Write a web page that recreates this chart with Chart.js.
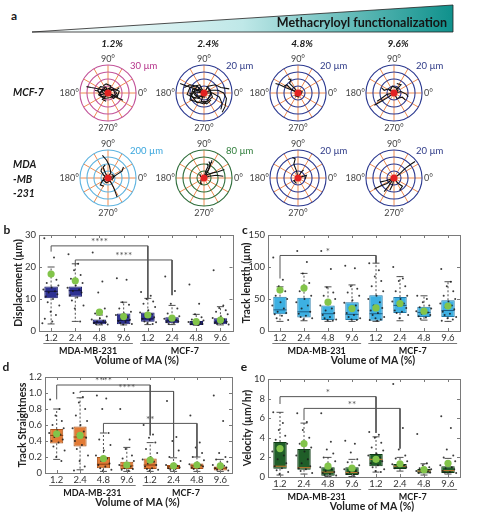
<!DOCTYPE html>
<html lang="en">
<head>
<meta charset="UTF-8">
<title>Cell migration vs. methacryloyl functionalization</title>
<script src="https://cdn.jsdelivr.net/npm/chart.js"></script>
<style>
  body { margin: 0; background: #fff; }
  #page { position: relative; width: 480px; height: 526px; overflow: hidden; font-family: Lato, "Open Sans", sans-serif; }
  #page canvas { position: absolute; }
  .t { position: absolute; white-space: nowrap; color: #1a1a1a; transform: translate(-50%, -50%); line-height: 1; }
  .l { transform: translate(0, -50%); }
</style>
</head>
<body>
<div id="page">
  <svg style="position:absolute;left:0;top:0" width="480" height="40">
    <defs>
      <linearGradient id="wedge" x1="0" x2="1" y1="0" y2="0">
        <stop offset="0" stop-color="#ffffff"/>
        <stop offset="0.5" stop-color="#bfe8e8"/>
        <stop offset="1" stop-color="#0f918c"/>
      </linearGradient>
    </defs>
    <polygon points="32,32 453,5 453,32" fill="url(#wedge)" stroke="#222" stroke-width="0.8"/>
  </svg>

  <canvas id="p0"></canvas><canvas id="p1"></canvas><canvas id="p2"></canvas><canvas id="p3"></canvas>
  <canvas id="p4"></canvas><canvas id="p5"></canvas><canvas id="p6"></canvas><canvas id="p7"></canvas>
  <canvas id="cb"></canvas><canvas id="cc"></canvas><canvas id="cd"></canvas><canvas id="ce"></canvas>
</div>

<script>
// ---- shared categories ----
const CAT_LABELS = ['1.2', '2.4', '4.8', '9.6', '1.2', '2.4', '4.8', '9.6'];
const GROUP_NAMES = ['MDA-MB-231', 'MCF-7'];
const GROUP_FROM = [0, 4];
const GROUP_TO = [3, 7];
const X_TITLE = 'Volume of MA (%)';
// fixed horizontal spread for the dots (category units)
const JITTER = [-0.28, 0.12, -0.05, 0.22, -0.18, 0.3, 0.02, -0.32, 0.16, -0.1, 0.26, -0.22, 0.08, -0.14, 0.34, -0.02, 0.2, -0.26, 0.05, -0.36];

// ---- b: displacement (µm) ----
const DISP_Q1 = [10.2, 10.7, 2.1, 2.1, 2.9, 2.4, 1.9, 2.1];
const DISP_Q3 = [13.9, 13.9, 3.6, 5.5, 5.8, 4.3, 3.1, 4.0];
const DISP_MED = [12.4, 12.6, 2.7, 3.3, 3.8, 3.2, 2.5, 2.8];
const DISP_LO = [2.2, 3.0, 1.9, 1.9, 2.0, 2.0, 1.8, 1.9];
const DISP_HI = [20, 21, 5.0, 9.0, 10.2, 8.0, 5.2, 7.6];
const DISP_MEAN = [17.8, 15.7, 5.9, 4.5, 5.0, 4.0, 2.9, 3.4];
const DISP_PTS = [
  [29, 23, 18.5, 16, 15, 14.2, 13.6, 13, 12.4, 12, 11.5, 10.8, 10, 9, 8, 6, 5, 3.8, 3, 2.4],
  [24, 21, 19, 17.5, 16.3, 15, 14.2, 13.5, 13, 12.5, 12, 11.2, 10.5, 9.5, 8, 7, 3],
  [24.5, 15.5, 12, 7, 5.5, 4.5, 4, 3.6, 3.2, 3, 2.7, 2.5, 2.3, 2.1, 2],
  [16.5, 16, 9, 8.2, 7, 6, 5.5, 5, 4.4, 4, 3.5, 3.1, 2.8, 2.5, 2.2, 2],
  [12.2, 11, 10, 9.2, 8.5, 7.5, 6.5, 5.8, 5.2, 4.8, 4.3, 3.8, 3.4, 3, 2.7, 2.4, 2.2],
  [17, 12.5, 8.5, 7, 5.5, 4.6, 4.1, 3.8, 3.5, 3.2, 3, 2.8, 2.5, 2.2],
  [14.5, 8.5, 5.2, 4.3, 3.6, 3.3, 3, 2.8, 2.6, 2.4, 2.2, 2.1, 1.9],
  [19, 8, 7.2, 6.5, 6, 5.2, 4.6, 4.1, 3.6, 3.2, 2.9, 2.6, 2.4, 2.2, 2]
];
// [from, to, leg start, top, leg end, stars]
const DISP_SIG = [[0, 4, 24.8, 26.6, 10.2, '****'], [1, 5, 20.6, 22.2, 11.2, '****']];

// ---- c: track length (µm) ----
const LEN_Q1 = [26, 21, 17, 17, 16, 28, 22, 22];
const LEN_Q3 = [53.6, 52, 40, 45, 56, 53, 38, 48];
const LEN_MED = [33, 30, 27, 26, 27, 40, 29, 32];
const LEN_LO = [15, 16, 15, 15, 15, 16, 17, 15];
const LEN_HI = [69, 90, 69, 72, 106, 85, 55, 77];
const LEN_MEAN = [64, 67, 45, 35, 36, 43, 31, 39];
const LEN_PTS = [
  [115, 80, 70, 62, 55, 50, 45, 40, 35, 30, 28, 26, 24, 20, 17],
  [125, 108, 90, 75, 62, 55, 50, 45, 40, 35, 30, 27, 24, 22, 20, 18],
  [125, 97, 68, 60, 55, 50, 45, 40, 35, 32, 28, 25, 22, 20, 18, 17, 16],
  [102, 98, 70, 66, 60, 55, 48, 44, 40, 36, 32, 28, 25, 22, 20, 18, 17],
  [106, 95, 85, 78, 70, 62, 55, 50, 45, 40, 36, 32, 28, 25, 22, 20, 18, 17, 16],
  [100, 82, 78, 70, 62, 55, 50, 46, 43, 40, 36, 32, 30, 28, 25, 20],
  [55, 50, 45, 40, 37, 35, 33, 31, 29, 27, 25, 23, 21, 19],
  [97, 77, 70, 62, 55, 50, 46, 43, 40, 37, 34, 30, 27, 25, 22, 20, 18, 16]
];
const LEN_SIG = [[0, 4, 82, 118, 106, '*']];

// ---- d: track straightness ----
const STR_Q1 = [0.37, 0.33, 0.06, 0.05, 0.05, 0.05, 0.05, 0.03];
const STR_Q3 = [0.55, 0.58, 0.2, 0.14, 0.18, 0.1, 0.12, 0.08];
const STR_MED = [0.47, 0.45, 0.11, 0.09, 0.1, 0.08, 0.09, 0.06];
const STR_LO = [0.17, 0.04, 0.02, 0.02, 0.02, 0.02, 0.02, 0.02];
const STR_HI = [0.8, 0.94, 0.5, 0.32, 0.38, 0.19, 0.2, 0.17];
const STR_MEAN = [0.49, 0.47, 0.18, 0.1, 0.16, 0.09, 0.1, 0.09];
const STR_PTS = [
  [0.92, 0.8, 0.72, 0.65, 0.6, 0.56, 0.53, 0.5, 0.48, 0.45, 0.42, 0.4, 0.38, 0.33, 0.28, 0.2, 0.15],
  [1.0, 0.95, 0.88, 0.8, 0.72, 0.65, 0.6, 0.56, 0.52, 0.48, 0.44, 0.4, 0.35, 0.3, 0.22, 0.15, 0.08, 0.03],
  [0.97, 0.93, 0.8, 0.5, 0.42, 0.35, 0.28, 0.22, 0.18, 0.15, 0.12, 0.1, 0.08, 0.06, 0.04, 0.03],
  [0.8, 0.42, 0.3, 0.22, 0.18, 0.15, 0.12, 0.1, 0.08, 0.06, 0.05, 0.04, 0.03],
  [0.6, 0.48, 0.44, 0.38, 0.3, 0.25, 0.2, 0.17, 0.14, 0.12, 0.1, 0.08, 0.06, 0.05, 0.04, 0.03],
  [0.9, 0.45, 0.4, 0.28, 0.2, 0.15, 0.12, 0.1, 0.09, 0.08, 0.07, 0.06, 0.05, 0.04],
  [0.72, 0.38, 0.32, 0.25, 0.2, 0.16, 0.13, 0.11, 0.1, 0.09, 0.08, 0.07, 0.06, 0.05],
  [0.97, 0.65, 0.25, 0.2, 0.17, 0.14, 0.12, 0.1, 0.09, 0.08, 0.07, 0.06, 0.05, 0.04, 0.03]
];
const STR_SIG = [[0, 4, 0.92, 1.1, 0.47, '****'], [1, 5, 1.0, 1.02, 0.2, '****'], [2, 6, 0.5, 0.62, 0.2, '**']];

// ---- e: velocity (µm/hr) ----
const VEL_Q1 = [0.85, 0.75, 0.14, 0.2, 1.1, 0.82, 0.35, 0.4];
const VEL_Q3 = [3.57, 2.86, 1.0, 1.0, 2.35, 1.33, 0.82, 1.1];
const VEL_MED = [1.1, 0.95, 0.5, 0.45, 1.8, 1.1, 0.6, 0.65];
const VEL_LO = [0.2, 0.3, 0.05, 0.05, 0.5, 0.6, 0.2, 0.3];
const VEL_HI = [6.6, 5.5, 2.0, 1.8, 4.1, 2.0, 1.35, 1.9];
const VEL_MEAN = [2.9, 3.4, 1.1, 0.9, 1.8, 1.35, 0.75, 1.4];
const VEL_PTS = [
  [6.6, 5.5, 4.8, 4.2, 3.8, 3.4, 3, 2.6, 2.2, 1.8, 1.4, 1.1, 0.9, 0.7, 0.5, 0.3],
  [6.5, 5.6, 4.8, 4, 3.4, 3, 2.6, 2.2, 1.8, 1.4, 1.1, 0.9, 0.8, 0.6, 0.4],
  [6.5, 3.6, 2.8, 2.4, 2, 1.6, 1.2, 1, 0.8, 0.6, 0.5, 0.4, 0.3, 0.2, 0.15],
  [3.7, 3.4, 2.5, 1.8, 1.5, 1.2, 1, 0.8, 0.6, 0.5, 0.4, 0.3, 0.2],
  [4.6, 4.3, 4, 3.5, 3, 2.7, 2.4, 2.2, 2, 1.8, 1.6, 1.4, 1.2, 1, 0.8, 0.6, 0.5],
  [9.5, 5, 2.8, 2.2, 1.9, 1.6, 1.4, 1.3, 1.2, 1.1, 1, 0.9],
  [4.4, 1.4, 1.2, 1, 0.9, 0.8, 0.7, 0.6, 0.55, 0.5, 0.45, 0.4],
  [6.2, 5, 2.8, 2.2, 2, 1.6, 1.4, 1.2, 1, 0.9, 0.8, 0.6, 0.5, 0.45, 0.4]
];
const VEL_SIG = [[0, 4, 7.45, 8.2, 4.5, '*'], [1, 5, 5.8, 7.0, 2.9, '**']];

// ---- a: cell tracks, µm from start ----
const POLAR_HEAD = ['1.2%', '2.4%', '4.8%', '9.6%'];
const POLAR_MAX = [30, 20, 20, 20, 200, 80, 20, 20];
const TRACKS = [
  [ // MCF-7 1.2 %
    [[0, 0], [-5, 3], [-12, 5], [-18, 6], [-23, 7]],
    [[0, 0], [4, -2], [8, -4], [12, -6], [16, -8]],
    [[0, 0], [-3, -4], [-6, -7], [-2, -9]],
    [[0, 0], [5, 4], [9, 3], [12, 6]],
    [[0, 0], [-8, -2], [-10, 2], [-14, 3]],
    [[0, 0], [3, 8], [-2, 10], [-5, 8]],
    [[0, 0], [6, -6], [10, -2], [8, 2]],
    [[0, 0], [-4, 5], [-7, 2], [-4, -1], [2, 3]],
    [[0, 0], [-6, 4], [-10, -2], [-4, -6], [3, -5], [8, -2], [6, 3], [0, 5]],
    [[0, 0], [10, -4], [12, 2], [4, 6], [-4, 3], [-9, 0]],
    [[0, 0], [-2, 6], [-8, 7], [-11, 3], [-7, -4], [0, -3]]
  ],
  [ // MCF-7 2.4 %
    [[0, 0], [-6, 3], [-12, 5], [-17, 7]],
    [[0, 0], [-5, 5], [-10, 6], [-14, 4]],
    [[0, 0], [5, 2], [10, 2], [14, 0], [16, -4], [15, -10], [13, -14]],
    [[0, 0], [6, 0], [11, -3], [13, -8], [12, -12]],
    [[0, 0], [-4, -4], [-8, -3], [-10, 0]],
    [[0, 0], [3, 5], [8, 6], [12, 4], [18, 3]],
    [[0, 0], [-2, -6], [2, -8], [5, -5]],
    [[0, 0], [-8, 1], [-6, -2], [-3, -4]],
    [[0, 0], [-3, 3], [-7, 1], [-5, -2], [1, -3]],
    [[0, 0], [-5, 5], [-9, -2], [-5, -7], [2, -6], [5, 0], [2, 5]],
    [[0, 0], [-8, 3], [-10, -5], [0, -8], [6, -3], [4, 3]],
    [[0, 0], [-3, 6], [-10, 4], [-12, -1], [-6, -4]]
  ],
  [ // MCF-7 4.8 %
    [[0, 0], [-4, 2], [-9, 4], [-13, 6], [-16, 7]],
    [[0, 0], [-3, 4], [-6, 7], [-5, 10], [-7, 10]],
    [[0, 0], [2, -1], [3, 1], [1, 2]],
    [[0, 0], [-2, -2], [1, -3]],
    [[0, 0], [-5, 3], [-8, 6], [-10, 5]]
  ],
  [ // MCF-7 9.6 %
    [[0, 0], [-4, -3], [-9, -6], [-14, -9]],
    [[0, 0], [-5, -1], [-9, -4], [-12, -6]],
    [[0, 0], [3, 4], [5, 6], [2, 7]],
    [[0, 0], [5, 1], [9, -1], [10, -3]],
    [[0, 0], [-4, 3], [-7, 2], [-9, 4]],
    [[0, 0], [2, -4], [6, -3], [8, -5]],
    [[0, 0], [-3, 2], [-1, 5], [3, 3], [1, -2]]
  ],
  [ // MDA-MB-231 1.2 %
    [[0, 0], [20, 40], [10, 90], [-10, 130], [-40, 165]],
    [[0, 0], [20, -30], [40, -70], [55, -110], [65, -140]],
    [[0, 0], [-30, 20], [-50, 50], [-45, 70]],
    [[0, 0], [40, 10], [70, 30], [100, 50], [110, 80]],
    [[0, 0], [-40, -20], [-55, -50], [-30, -60]],
    [[0, 0], [-20, 40], [-35, 80], [-20, 95]],
    [[0, 0], [30, -10], [45, 10], [25, 30]],
    [[0, 0], [-25, 10], [-35, -15], [-10, -35], [15, -20]]
  ],
  [ // MDA-MB-231 2.4 %
    [[0, 0], [8, 15], [15, 30], [20, 45], [22, 52]],
    [[0, 0], [10, 10], [25, 15], [40, 18], [58, 25]],
    [[0, 0], [15, 5], [35, 8], [55, 5]],
    [[0, 0], [5, 20], [12, 35], [8, 42]],
    [[0, 0], [-8, -5], [-10, -15], [-5, -18]],
    [[0, 0], [-10, 5], [-12, 12]],
    [[0, 0], [12, 22], [18, 38], [14, 48]]
  ],
  [ // MDA-MB-231 4.8 %
    [[0, 0], [-1, 5], [-3, 10], [-2, 14], [-4, 15]],
    [[0, 0], [3, 1], [6, 2], [5, -1]],
    [[0, 0], [-3, -2], [-1, -4]],
    [[0, 0], [2, 4], [4, 6]]
  ],
  [ // MDA-MB-231 9.6 %
    [[0, 0], [4, 3], [8, 7], [12, 10], [15, 12]],
    [[0, 0], [-5, -4], [-10, -6], [-14, -8]],
    [[0, 0], [-4, -6], [-7, -10]],
    [[0, 0], [-1, -5], [-3, -9]],
    [[0, 0], [3, -4], [6, -6], [4, -9]],
    [[0, 0], [-6, -2], [-10, -3]]
  ]
];

const FONT = 'Lato, "Open Sans", sans-serif';
Chart.defaults.font.family = FONT;
const page = document.getElementById('page');

function text(str, x, y, css, left) {
  const d = document.createElement('div');
  d.className = left ? 't l' : 't';
  d.textContent = str;
  d.style.left = x + 'px';
  d.style.top = y + 'px';
  d.style.cssText += css;
  page.appendChild(d);
}

function place(id, left, top, w, h) {
  const cv = document.getElementById(id);
  cv.width = w; cv.height = h;
  cv.style.left = left + 'px'; cv.style.top = top + 'px';
  cv.style.width = w + 'px'; cv.style.height = h + 'px';
  return cv;
}

// ---------- polar track plots ----------
const RING_COLORS = ['#c2549a', '#2b3990', '#2b3990', '#2b3990', '#5fb4e0', '#2f6e3c', '#2b3990', '#2b3990'];
const RING_TEXT_COLORS = ['#b5338a', '#2e3a87', '#2e3a87', '#2e3a87', '#3aa6dd', '#2e7d3a', '#2e3a87', '#2e3a87'];
const CX = [108, 204, 298, 394];
const CY = [93, 178];

function polar(k) {
  const W = 124, H = 92, r = 30;
  const cx = CX[k % 4], cy = CY[Math.floor(k / 4)];
  const cv = place('p' + k, cx - W / 2, cy - H / 2, W, H);
  const R = POLAR_MAX[k];
  const datasets = TRACKS[k].map(t => ({
    type: 'scatter', showLine: true, data: t.map(p => ({ x: p[0], y: p[1] })),
    borderColor: '#111', borderWidth: 1.1, pointRadius: 0, order: 1
  }));
  datasets.push({ type: 'scatter', data: [{ x: 0, y: 0 }], pointRadius: 3.5, backgroundColor: '#e32222', borderWidth: 0, order: 0 });

  const grid = {
    id: 'polarGrid',
    beforeDatasetsDraw(chart) {
      const { ctx, scales: { x, y } } = chart;
      const ox = x.getPixelForValue(0), oy = y.getPixelForValue(0);
      const rp = x.getPixelForValue(R) - ox;
      ctx.save();
      ctx.strokeStyle = '#f08c50'; ctx.lineWidth = 1;
      for (let a = 0; a < 360; a += 30) {
        const t = a * Math.PI / 180;
        ctx.beginPath(); ctx.moveTo(ox, oy);
        ctx.lineTo(ox + rp * Math.cos(t), oy - rp * Math.sin(t)); ctx.stroke();
      }
      ctx.strokeStyle = RING_COLORS[k]; ctx.lineWidth = 1.1;
      [0.25, 0.5, 0.75, 1].forEach(f => { ctx.beginPath(); ctx.arc(ox, oy, rp * f, 0, Math.PI * 2); ctx.stroke(); });
      ctx.restore();
    },
    afterDraw(chart) {
      const { ctx, scales: { x, y } } = chart;
      const ox = x.getPixelForValue(0), oy = y.getPixelForValue(0);
      const rp = x.getPixelForValue(R) - ox;
      ctx.save();
      ctx.font = '9px ' + FONT; ctx.fillStyle = '#444'; ctx.textBaseline = 'middle';
      ctx.textAlign = 'center';
      ctx.fillText('90°', ox, oy - rp - 6);
      ctx.fillText('270°', ox, oy + rp + 7);
      ctx.textAlign = 'right'; ctx.fillText('180°', ox - rp - 1, oy);
      ctx.textAlign = 'left'; ctx.fillText('0°', ox + rp + 2, oy);
      ctx.font = '9.5px ' + FONT; ctx.fillStyle = RING_TEXT_COLORS[k];
      ctx.fillText(R + ' µm', ox + 22, oy - 27);
      ctx.restore();
    }
  };

  new Chart(cv, {
    type: 'scatter',
    data: { datasets },
    options: {
      responsive: false, animation: false,
      layout: { padding: 0 },
      plugins: { legend: { display: false }, tooltip: { enabled: false } },
      scales: {
        x: { display: false, min: -R * W / 2 / r, max: R * W / 2 / r },
        y: { display: false, min: -R * H / 2 / r, max: R * H / 2 / r }
      }
    },
    plugins: [grid]
  });
}
for (let k = 0; k < 8; k++) polar(k);

// ---------- box plots ----------
function boxChart(o) {
  const cv = place(o.id, o.left, o.top, o.w, o.h);
  const n = CAT_LABELS.length;
  const dots = [], whisk = [], caps = [], boxes = [], meds = [], means = [];
  for (let i = 0; i < n; i++) {
    o.pts[i].forEach((v, j) => dots.push({ x: i + JITTER[j % JITTER.length], y: v }));
    whisk.push({ x: i, y: o.q3[i] }, { x: i, y: o.hi[i] }, { x: i, y: null },
               { x: i, y: o.q1[i] }, { x: i, y: o.lo[i] }, { x: i, y: null });
    caps.push({ x: i, y: o.hi[i] }, { x: i, y: o.lo[i] });
    boxes.push({ x: i, y: [o.q1[i], o.q3[i]] });
    meds.push({ x: i, y: o.med[i] });
    means.push({ x: i, y: o.mean[i] });
  }
  const datasets = [
    { type: 'bar', data: boxes, backgroundColor: o.fill, borderColor: o.edge, borderWidth: 1,
      borderSkipped: false, barPercentage: 0.56, categoryPercentage: 1, order: 6 },
    { type: 'line', data: whisk, borderColor: '#222', borderWidth: 0.8, borderDash: [2, 2],
      pointRadius: 0, spanGaps: false, order: 5 },
    { type: 'scatter', data: caps, pointStyle: 'line', pointRadius: 3.5, borderColor: '#222', borderWidth: 0.8, order: 4 },
    { type: 'scatter', data: meds, pointStyle: 'line', pointRadius: 6.5, borderColor: o.medColor, borderWidth: 1, order: 3 },
    { type: 'scatter', data: dots, pointRadius: 1, backgroundColor: 'rgba(25,25,25,0.85)', borderWidth: 0, order: 2 },
    { type: 'scatter', data: means, pointRadius: 3.6, backgroundColor: '#82c44a', borderWidth: 0, order: 1 }
  ];
  o.sig.forEach(s => datasets.push({
    type: 'line', data: [{ x: s[0], y: s[2] }, { x: s[0], y: s[3] }, { x: s[1], y: s[3] }, { x: s[1], y: s[4] }],
    borderColor: '#555', borderWidth: 1, pointRadius: 0, order: 0
  }));

  const decor = {
    id: 'boxDecor',
    afterDraw(chart) {
      const { ctx, chartArea: a, scales: { x, y } } = chart;
      ctx.save();
      ctx.strokeStyle = '#7a7a7a'; ctx.lineWidth = 1;
      ctx.strokeRect(Math.round(a.left) + 0.5, Math.round(a.top) + 0.5, Math.round(a.right - a.left), Math.round(a.bottom - a.top));
      ctx.beginPath();
      x.ticks.forEach(t => {
        const px = Math.round(x.getPixelForValue(t.value)) + 0.5;
        ctx.moveTo(px, a.bottom); ctx.lineTo(px, a.bottom - 3);
        ctx.moveTo(px, a.top); ctx.lineTo(px, a.top + 3);
      });
      y.ticks.forEach(t => {
        const py = Math.round(y.getPixelForValue(t.value)) + 0.5;
        ctx.moveTo(a.left, py); ctx.lineTo(a.left + 3, py);
        ctx.moveTo(a.right, py); ctx.lineTo(a.right - 3, py);
      });
      ctx.stroke();
      // group underlines and names
      ctx.strokeStyle = '#777';
      ctx.fillStyle = '#1a1a1a'; ctx.textAlign = 'center'; ctx.textBaseline = 'middle';
      ctx.font = 'bold 9px ' + FONT;
      GROUP_NAMES.forEach((g, i) => {
        const x0 = x.getPixelForValue(GROUP_FROM[i] - 0.32), x1 = x.getPixelForValue(GROUP_TO[i] + 0.38);
        ctx.beginPath(); ctx.moveTo(x0, a.bottom + 12.5); ctx.lineTo(x1, a.bottom + 12.5); ctx.stroke();
        ctx.fillText(g, (x0 + x1) / 2, a.bottom + 20.5);
      });
      ctx.font = 'bold 10.5px ' + FONT; ctx.fillStyle = '#222';
      ctx.fillText(X_TITLE, (a.left + a.right) / 2 + o.titleDx, a.bottom + 30);
      // significance stars
      ctx.font = '10px ' + FONT; ctx.fillStyle = '#555'; ctx.textBaseline = 'bottom';
      o.sig.forEach(s => ctx.fillText(s[5], x.getPixelForValue((s[0] + s[1]) / 2), y.getPixelForValue(s[3]) + 1));
      ctx.restore();
    }
  };

  new Chart(cv, {
    type: 'bar',
    data: { datasets },
    options: {
      responsive: false, animation: false,
      layout: { padding: { left: 0, top: o.pt, right: o.pr, bottom: 0 } },
      plugins: { legend: { display: false }, tooltip: { enabled: false } },
      scales: {
        x: {
          type: 'linear', min: -0.5, max: 7.5, offset: false,
          grid: { display: false, drawTicks: false }, border: { display: false },
          afterBuildTicks: s => { s.ticks = CAT_LABELS.map((_, i) => ({ value: i })); },
          ticks: { autoSkip: false, maxRotation: 0, padding: 1, color: '#333', font: { size: 9.5 },
                   callback: v => CAT_LABELS[v] },
          afterFit: s => { s.height = o.xh; }
        },
        y: {
          min: 0, max: o.max,
          grid: { display: false, drawTicks: false }, border: { display: false },
          ticks: { stepSize: o.step, padding: 3, color: '#333', font: { size: 9.5 } },
          title: { display: true, text: o.title, color: '#222', font: { size: 10.5, weight: 'bold' },
                   padding: { top: o.titlePad, bottom: 0 } },
          afterFit: s => { s.width = o.yw; }
        }
      }
    },
    plugins: [decor]
  });
}

boxChart({ id: 'cb', left: 0, top: 222, w: 240, h: 146, yw: 39, pt: 13, pr: 7, xh: 37, titlePad: 12, titleDx: 1,
  max: 30, step: 10, title: 'Displacement (µm)', fill: '#2e3192', edge: '#1b1d6a', medColor: '#12144a',
  q1: DISP_Q1, q3: DISP_Q3, med: DISP_MED, lo: DISP_LO, hi: DISP_HI, mean: DISP_MEAN, pts: DISP_PTS, sig: DISP_SIG });
boxChart({ id: 'cc', left: 240, top: 222, w: 240, h: 146, yw: 28, pt: 13, pr: 20, xh: 37, titlePad: 0, titleDx: 9,
  max: 150, step: 50, title: 'Track length (µm)', fill: '#3db0e2', edge: '#2379a8', medColor: '#1b5f88',
  q1: LEN_Q1, q3: LEN_Q3, med: LEN_MED, lo: LEN_LO, hi: LEN_HI, mean: LEN_MEAN, pts: LEN_PTS, sig: LEN_SIG });
boxChart({ id: 'cd', left: 0, top: 365, w: 240, h: 161, yw: 45, pt: 12, pr: 8, xh: 53, titlePad: 16, titleDx: -1,
  max: 1.2, step: 0.2, title: 'Track Straightness', fill: '#e27b36', edge: '#a9541b', medColor: '#8a3f10',
  q1: STR_Q1, q3: STR_Q3, med: STR_MED, lo: STR_LO, hi: STR_HI, mean: STR_MEAN, pts: STR_PTS, sig: STR_SIG });
boxChart({ id: 'ce', left: 240, top: 365, w: 240, h: 161, yw: 28, pt: 14, pr: 20, xh: 49, titlePad: 1, titleDx: 8,
  max: 10, step: 2, title: 'Velocity (µm/hr)', fill: '#1f5e28', edge: '#0e3a14', medColor: '#d07a30',
  q1: VEL_Q1, q3: VEL_Q3, med: VEL_MED, lo: VEL_LO, hi: VEL_HI, mean: VEL_MEAN, pts: VEL_PTS, sig: VEL_SIG });

// ---------- static labels ----------
const ITALIC = 'font-weight:bold;font-style:italic;font-size:10.5px;';
text('a', 14, 16, 'font-weight:bold;font-size:12px;');
text('Methacryloyl functionalization', 447, 23, 'font-weight:bold;font-size:12.5px;transform:translate(-100%,-50%);color:#151515;');
POLAR_HEAD.forEach((h, i) => text(h, CX[i] + 4, 43, 'font-weight:bold;font-style:italic;font-size:10px;'));
text('MCF-7', 13, 92, ITALIC, true);
text('MDA', 13, 164, ITALIC, true);
text('-MB', 13, 178.5, ITALIC, true);
text('-231', 13, 193, ITALIC, true);
text('b', 7, 230, 'font-weight:bold;font-size:12px;');
text('c', 245, 230, 'font-weight:bold;font-size:12px;');
text('d', 6, 367, 'font-weight:bold;font-size:12px;');
text('e', 244, 367, 'font-weight:bold;font-size:12px;');
</script>
</body>
</html>
